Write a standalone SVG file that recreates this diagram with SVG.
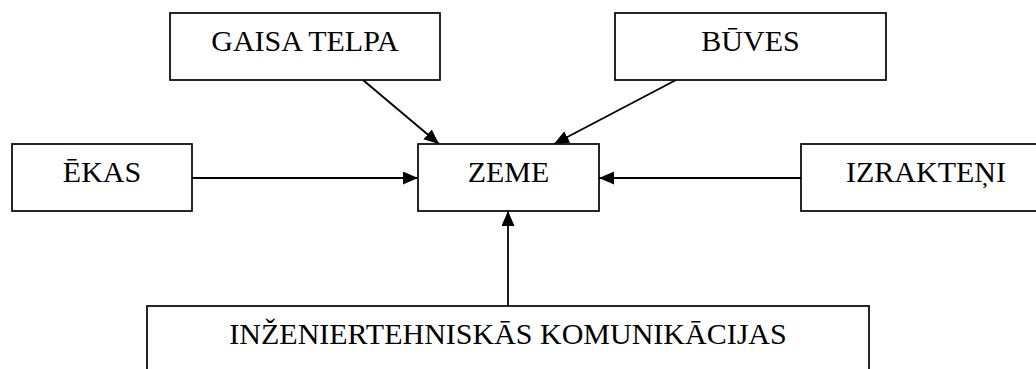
<svg xmlns="http://www.w3.org/2000/svg" width="1036" height="369" viewBox="0 0 1036 369">
<style>
.box{fill:#fff;stroke:#000;stroke-width:1.7}
.lbl{font-family:"Liberation Serif","Times New Roman",serif;font-size:30px;fill:#000;text-anchor:middle}
.con{stroke:#000;stroke-width:1.8;fill:none;marker-end:url(#ah)}
</style>
<defs>
<marker id="ah" markerUnits="userSpaceOnUse" markerWidth="16" markerHeight="14" refX="15" refY="6.5" orient="auto">
<path d="M0,0 L15,6.5 L0,13 z" fill="#000"/>
</marker>
</defs>
<rect width="1036" height="369" fill="#fff"/>
<g id="connectors">
<line class="con" x1="363" y1="80" x2="439" y2="144"/>
<line class="con" x1="676" y1="80" x2="554" y2="144"/>
<line class="con" x1="192" y1="178" x2="418" y2="178"/>
<line class="con" x1="801" y1="178" x2="599" y2="178"/>
<line class="con" x1="508" y1="306" x2="508" y2="211"/>
</g>
<g id="gaisa-telpa">
<rect class="box" x="170" y="13" width="270" height="67"/>
<text class="lbl" x="305" y="51">GAISA TELPA</text>
</g>
<g id="buves">
<rect class="box" x="615" y="13" width="271" height="67"/>
<text class="lbl" x="750.5" y="51">BŪVES</text>
</g>
<g id="ekas">
<rect class="box" x="12" y="144" width="180" height="67"/>
<text class="lbl" x="102" y="182">ĒKAS</text>
</g>
<g id="zeme">
<rect class="box" x="418" y="144" width="181" height="67"/>
<text class="lbl" x="508.5" y="182">ZEME</text>
</g>
<g id="izrakteni">
<rect class="box" x="801" y="144" width="250" height="67"/>
<text class="lbl" x="926" y="182">IZRAKTEŅI</text>
</g>
<g id="inzeniertehniskas">
<rect class="box" x="147" y="306" width="722" height="90"/>
<text class="lbl" x="508" y="344">INŽENIERTEHNISKĀS KOMUNIKĀCIJAS</text>
</g>
</svg>
